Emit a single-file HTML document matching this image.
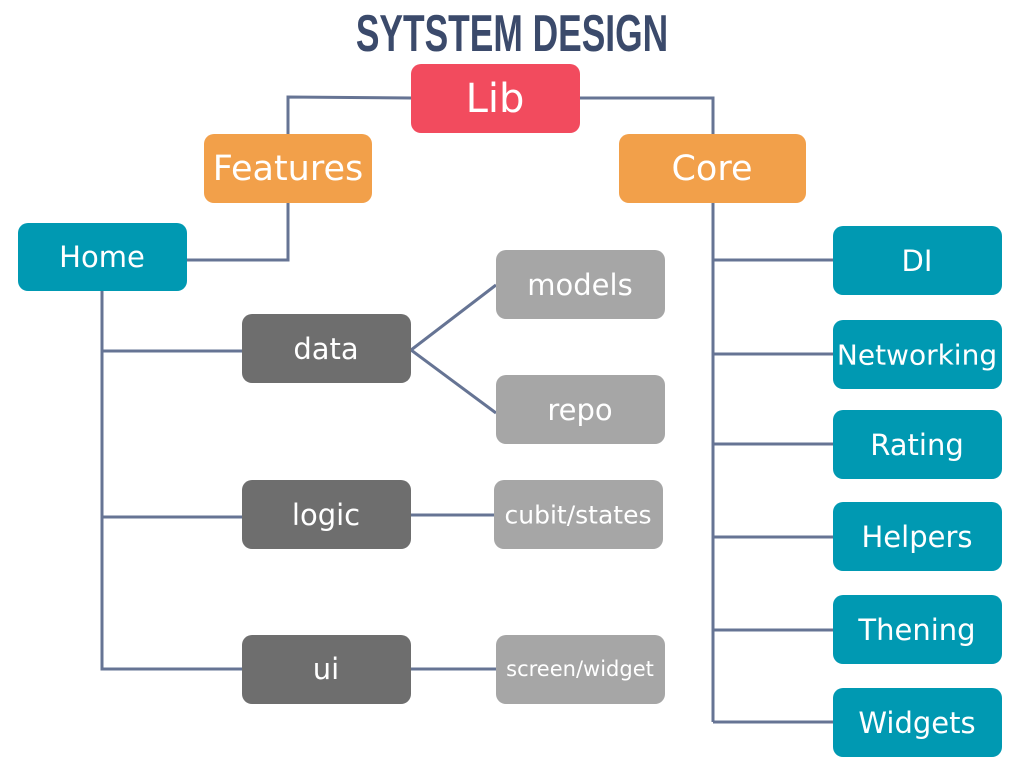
<!DOCTYPE html>
<html><head><meta charset="utf-8"><style>
html,body{margin:0;padding:0;background:#fff;}
svg{display:block}
text{font-family:"DejaVu Sans","Liberation Sans",sans-serif;fill:#fff;text-anchor:middle;dominant-baseline:central}
</style></head><body>
<svg width="1024" height="768" viewBox="0 0 1024 768" xmlns="http://www.w3.org/2000/svg">
<rect width="1024" height="768" fill="#fff"/>
<text x="512" y="34" style="font-family:'Liberation Sans Narrow','Liberation Sans',sans-serif;font-weight:bold;font-size:52px;fill:#3b4a6b" transform="translate(512 0) scale(0.68 1) translate(-512 0)">SYTSTEM DESIGN</text>
<g stroke="#667494" stroke-width="3" fill="none">
<polyline points="411,98 288,97 288,134"/>
<polyline points="288,203 288,260 187,260"/>
<polyline points="580,98 713,98 713,134"/>
<line x1="713" y1="203" x2="713" y2="722"/>
<line x1="713" y1="260" x2="833" y2="260"/>
<line x1="713" y1="354" x2="833" y2="354"/>
<line x1="713" y1="444" x2="833" y2="444"/>
<line x1="713" y1="537" x2="833" y2="537"/>
<line x1="713" y1="630" x2="833" y2="630"/>
<line x1="713" y1="722" x2="833" y2="722"/>
<polyline points="102,291 102,669 242,669"/>
<line x1="102" y1="351" x2="242" y2="351"/>
<line x1="102" y1="517" x2="242" y2="517"/>
<polyline points="496,285 411,350 496,413"/>
<line x1="411" y1="515" x2="494" y2="515"/>
<line x1="411" y1="669" x2="496" y2="669"/>
</g>
<g>
<rect x="411" y="64" width="169" height="69" rx="10" fill="#f24b5e"/><text x="495" y="99" font-size="40">Lib</text>
<rect x="204" y="134" width="168" height="69" rx="10" fill="#f2a04a"/><text x="288" y="169" font-size="35">Features</text>
<rect x="619" y="134" width="187" height="69" rx="10" fill="#f2a04a"/><text x="712" y="169" font-size="35">Core</text>
<rect x="18" y="223" width="169" height="68" rx="10" fill="#0099b2"/><text x="102" y="257" font-size="29">Home</text>
<rect x="242" y="314" width="169" height="69" rx="10" fill="#6e6e6e"/><text x="326" y="349" font-size="29">data</text>
<rect x="496" y="250" width="169" height="69" rx="10" fill="#a6a6a6"/><text x="580" y="285" font-size="29">models</text>
<rect x="496" y="375" width="169" height="69" rx="10" fill="#a6a6a6"/><text x="580" y="410" font-size="29">repo</text>
<rect x="242" y="480" width="169" height="69" rx="10" fill="#6e6e6e"/><text x="326" y="515" font-size="29">logic</text>
<rect x="494" y="480" width="169" height="69" rx="10" fill="#a6a6a6"/><text x="578" y="515" font-size="25">cubit/states</text>
<rect x="242" y="635" width="169" height="69" rx="10" fill="#6e6e6e"/><text x="326" y="669" font-size="29">ui</text>
<rect x="496" y="635" width="169" height="69" rx="10" fill="#a6a6a6"/><text x="580" y="669" font-size="21">screen/widget</text>
<rect x="833" y="226" width="169" height="69" rx="10" fill="#0099b2"/><text x="917" y="261" font-size="29">DI</text>
<rect x="833" y="320" width="169" height="69" rx="10" fill="#0099b2"/><text x="917" y="355" font-size="28">Networking</text>
<rect x="833" y="410" width="169" height="69" rx="10" fill="#0099b2"/><text x="917" y="445" font-size="29">Rating</text>
<rect x="833" y="502" width="169" height="69" rx="10" fill="#0099b2"/><text x="917" y="537" font-size="29">Helpers</text>
<rect x="833" y="595" width="169" height="69" rx="10" fill="#0099b2"/><text x="917" y="630" font-size="29">Thening</text>
<rect x="833" y="688" width="169" height="69" rx="10" fill="#0099b2"/><text x="917" y="723" font-size="29">Widgets</text>
</g>
</svg>
</body></html>
